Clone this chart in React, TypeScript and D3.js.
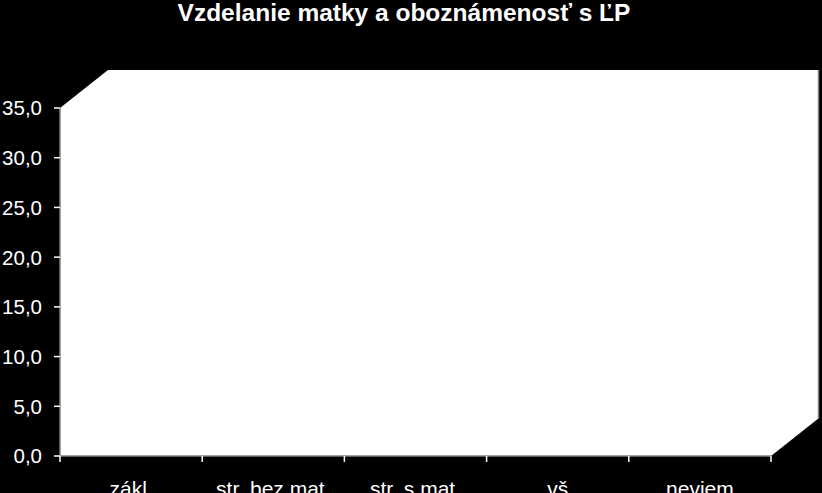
import React, { useEffect, useRef } from "react";
import * as d3 from "d3";

const title = "Vzdelanie matky a oboznámenosť s ĽP";
const categories = ["zákl.", "str. bez mat.", "str. s  mat.", "vš", "neviem"];
const values = [0, 0, 0, 0, 0];
const yTicks = [0, 5, 10, 15, 20, 25, 30, 35];

const W = 822;
const H = 493;
const FONT = "Arial, 'Liberation Sans', sans-serif";

export default function App() {
    const svgRef = useRef<SVGSVGElement | null>(null);

    useEffect(() => {
        document.body.style.margin = "0";
        document.body.style.background = "#000";
        if (!svgRef.current) return;

        const svg = d3.select(svgRef.current);
        svg.selectAll("*").remove();

        const margin = { top: 108, right: 51, bottom: 37, left: 60 };
        const depth = { dx: 48, dy: 38 }; // 3d wall offset

        const x = d3.scaleBand()
            .domain(categories)
            .range([margin.left, W - margin.right])
            .paddingInner(0)
            .paddingOuter(0);

        const y = d3.scaleLinear()
            .domain([0, 35])
            .range([H - margin.bottom, margin.top]);

        svg.append("rect")
            .attr("width", W)
            .attr("height", H)
            .attr("fill", "#000");

        // white walls (side + back + floor)
        const x0 = x.range()[0];
        const x1 = x.range()[1];
        const yb = y(0);
        const yt = y(35);
        const walls: [number, number][] = [
            [x0, yt],
            [x0 + depth.dx, yt - depth.dy],
            [x1 + depth.dx, yt - depth.dy],
            [x1 + depth.dx, yb - depth.dy],
            [x1, yb],
            [x0, yb],
        ];
        svg.append("path")
            .attr("d", d3.line()(walls) + "Z")
            .attr("fill", "#fff");

        // right edge of back wall
        svg.append("line")
            .attr("x1", x1 + depth.dx - 0.5)
            .attr("x2", x1 + depth.dx - 0.5)
            .attr("y1", yt - depth.dy)
            .attr("y2", yb - depth.dy)
            .attr("stroke", "#808080")
            .attr("stroke-width", 1.5);

        // bars (all values are zero here)
        svg.selectAll(".bar")
            .data(values)
            .join("rect")
            .attr("class", "bar")
            .attr("x", (d, i) => (x(categories[i]) || 0) + x.bandwidth() * 0.2)
            .attr("width", x.bandwidth() * 0.6)
            .attr("y", d => y(d))
            .attr("height", d => y(0) - y(d))
            .attr("fill", "#9999ff");

        // y axis
        const yAxis = svg.append("g");
        yAxis.append("line")
            .attr("x1", x0).attr("x2", x0)
            .attr("y1", yt).attr("y2", yb)
            .attr("stroke", "#808080")
            .attr("stroke-width", 1.5);
        yAxis.selectAll(".ytick")
            .data(yTicks)
            .join("line")
            .attr("x1", x0 - 6).attr("x2", x0)
            .attr("y1", d => y(d)).attr("y2", d => y(d))
            .attr("stroke", "#fff")
            .attr("stroke-width", 1.5);
        yAxis.selectAll(".ylab")
            .data(yTicks)
            .join("text")
            .attr("x", x0 - 18)
            .attr("y", d => y(d))
            .attr("dy", "0.36em")
            .attr("text-anchor", "end")
            .attr("fill", "#fff")
            .style("font-family", FONT)
            .style("font-size", "20.5px")
            .text(d => d3.format(".1f")(d).replace(".", ","));

        // x axis
        const xAxis = svg.append("g");
        xAxis.append("line")
            .attr("x1", x0).attr("x2", x1)
            .attr("y1", yb).attr("y2", yb)
            .attr("stroke", "#808080")
            .attr("stroke-width", 1.5);
        const xTickPos = categories.map(c => x(c) || 0).concat([x1]);
        xAxis.selectAll(".xtick")
            .data(xTickPos)
            .join("line")
            .attr("x1", d => d).attr("x2", d => d)
            .attr("y1", yb).attr("y2", yb + 6)
            .attr("stroke", "#fff")
            .attr("stroke-width", 1.5);
        xAxis.selectAll(".xlab")
            .data(categories)
            .join("text")
            .attr("x", d => (x(d) || 0) + x.bandwidth() / 2)
            .attr("y", yb + 40)
            .attr("text-anchor", "middle")
            .attr("fill", "#fff")
            .style("font-family", FONT)
            .style("font-size", "21px")
            .text(d => d);

        svg.append("text")
            .attr("x", 404)
            .attr("y", 21)
            .attr("text-anchor", "middle")
            .attr("fill", "#fff")
            .style("font-family", FONT)
            .style("font-size", "24.5px")
            .style("font-weight", "bold")
            .text(title);
    }, []);

    return <svg ref={svgRef} width={W} height={H} style={{ display: "block" }} />;
}
